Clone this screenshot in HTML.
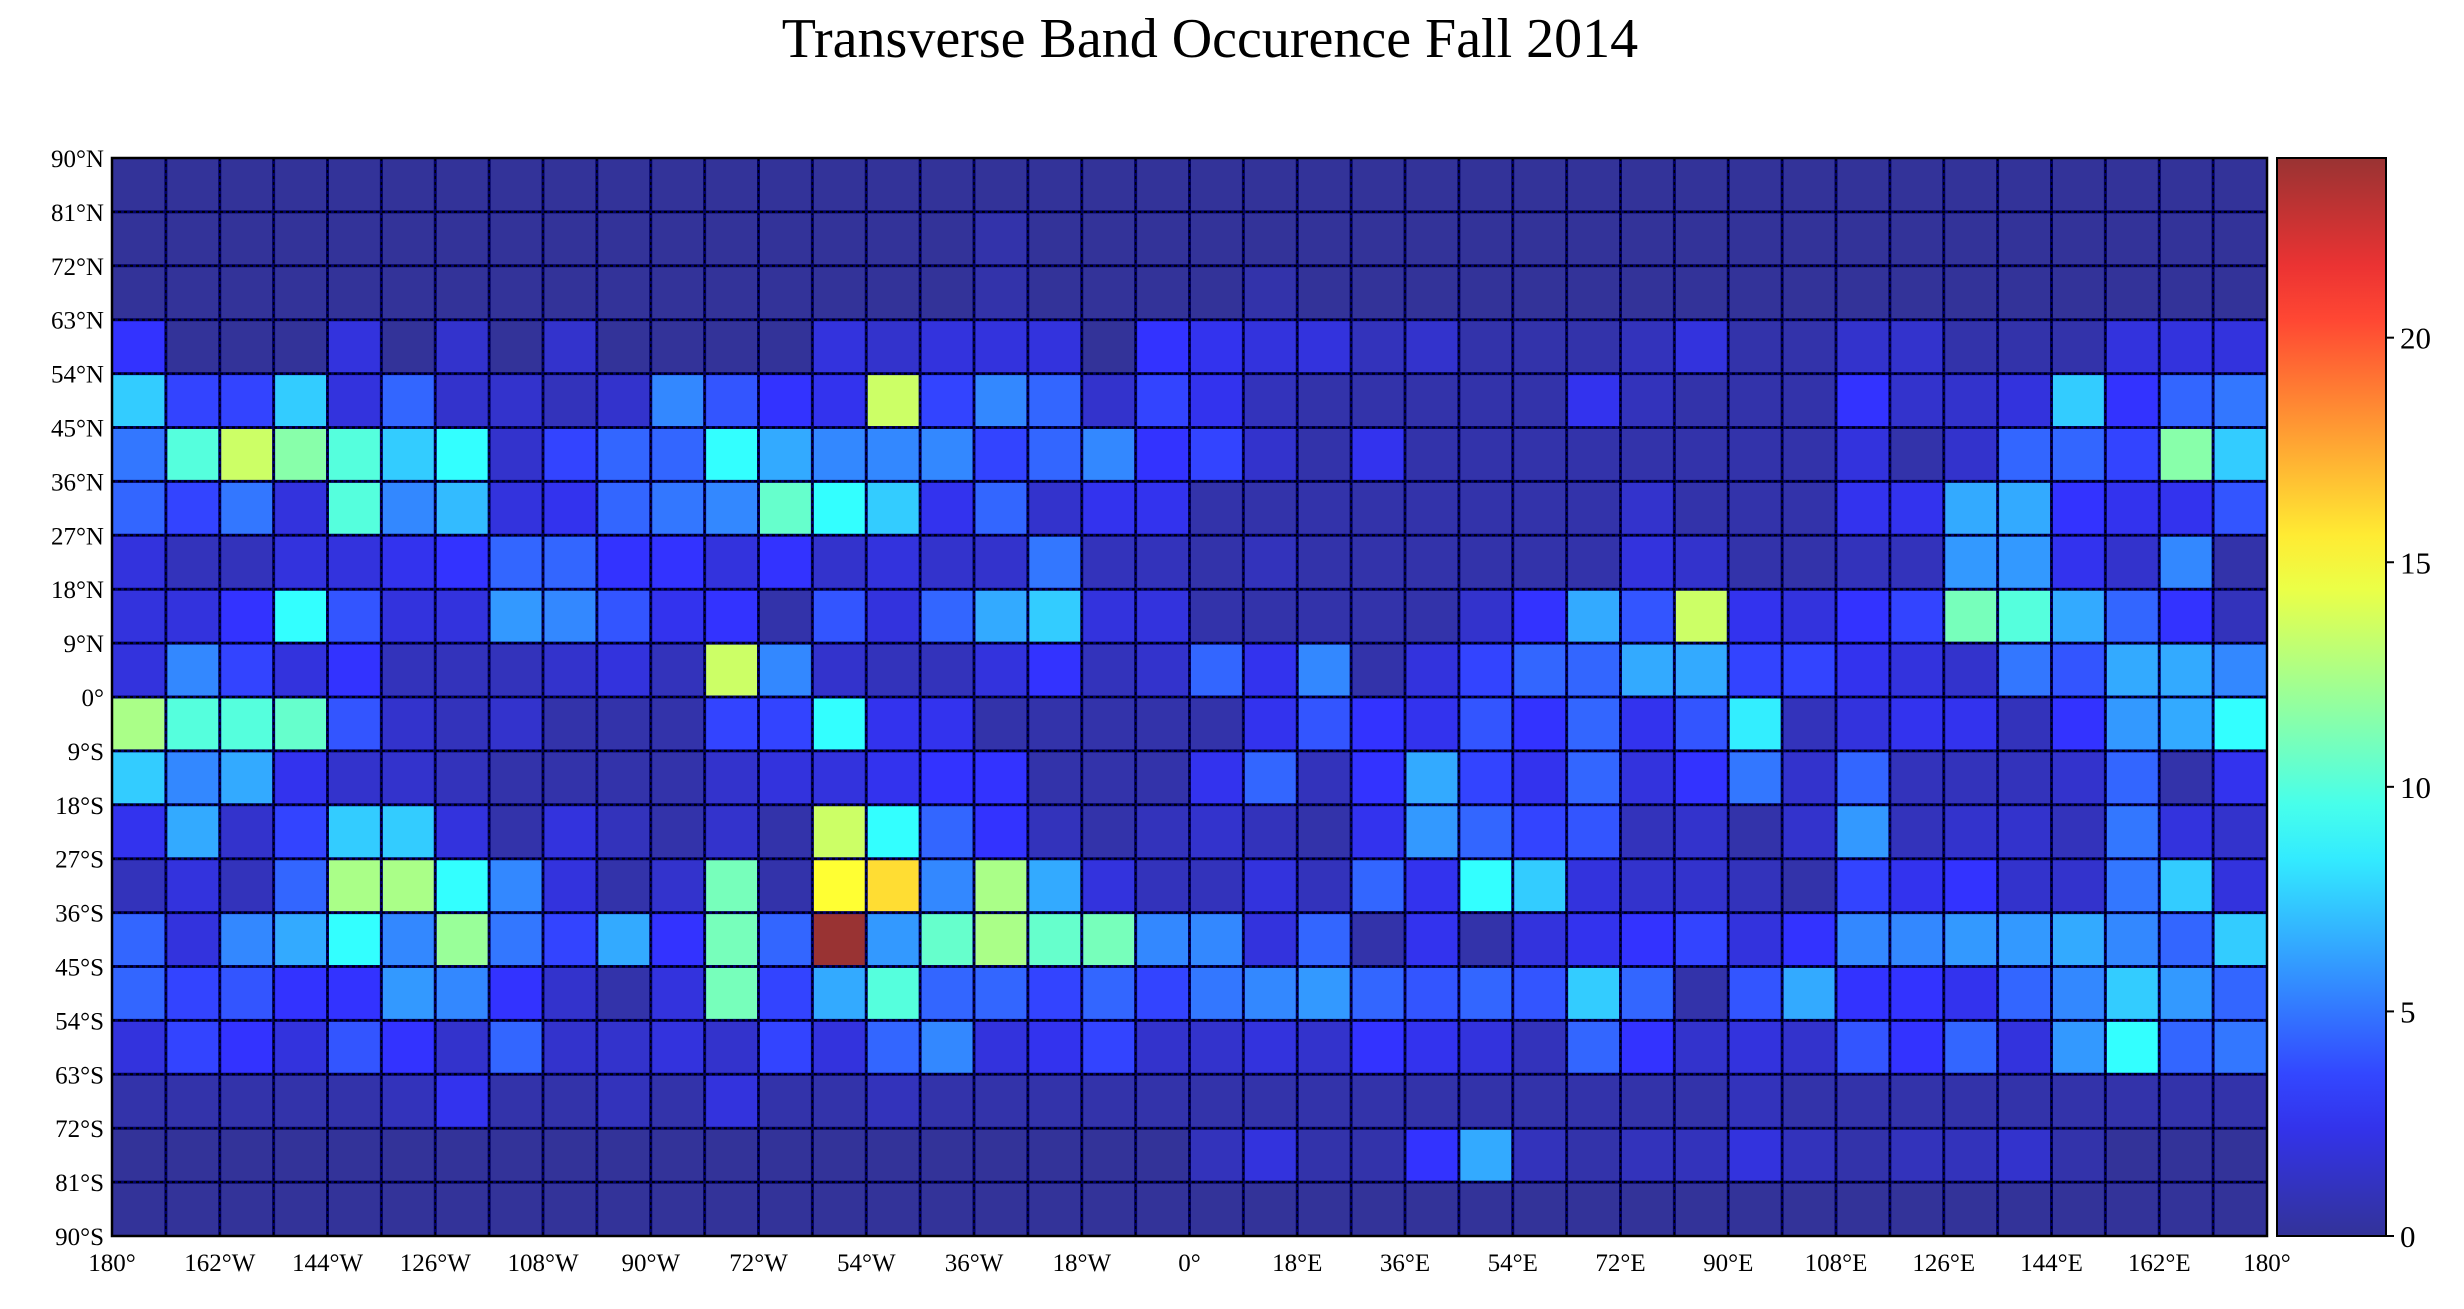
<!DOCTYPE html>
<html><head><meta charset="utf-8"><style>
html,body{margin:0;padding:0;background:#fff;}
svg{display:block;font-family:"Liberation Serif",serif;}
</style></head><body>
<svg id="chart" width="2464" height="1309" viewBox="0 0 2464 1309" xmlns="http://www.w3.org/2000/svg">
<text x="1210" y="57" font-size="56" text-anchor="middle">Transverse Band Occurence Fall 2014</text>
<g id="cells"></g>
<g id="grid"></g>
<g id="axes"></g>
<g id="cbar"></g>
</svg>
<script>
const lonTicks = ["180°","162°W","144°W","126°W","108°W","90°W","72°W","54°W","36°W","18°W","0°","18°E","36°E","54°E","72°E","90°E","108°E","126°E","144°E","162°E","180°"];
const latTicks = ["90°N","81°N","72°N","63°N","54°N","45°N","36°N","27°N","18°N","9°N","0°","9°S","18°S","27°S","36°S","45°S","54°S","63°S","72°S","81°S","90°S"];
const cbTicks = [0,5,10,15,20];
const cbMax = 24;
// rows from 90N southward, columns from 180W eastward (9 degree cells)
const r0 = [0,0,0,0,0,0,0,0,0,0,0,0,0,0,0,0,0,0,0,0,0,0,0,0,0,0,0,0,0,0,0,0,0,0,0,0,0,0,0,0];
const r1 = [0,0,0,0,0,0,0,0,0,0,0,0,0,0,0,0,0.5,0,0,0,0,0,0,0,0,0,0,0,0,0,0,0,0,0,0,0,0,0,0,0];
const r2 = [0,0,0,0,0,0,0,0,0,0,0,0,0,0,0,0,0.5,0,0,0,0,0.5,0,0,0,0,0,0,0,0,0,0,0,0,0,0,0,0,0,0];
const r3 = [3,0,0,0,2,0,1.5,0,1.5,0,0,0,0,2,1.5,2,2,2,0,3,2.5,2,2,1,1.5,0.5,0.5,0.5,1,2,0.5,0.5,1.5,1.5,0.5,0.5,0.5,2,2,2];
const r4 = [7.5,3.5,3.5,7.5,2,4.5,1.5,1.5,1,1.5,5.5,4,3,2.5,13.5,3.5,5.5,4.5,1.5,3.5,2.5,1,0.5,0.5,0.5,0.5,0.5,2.5,1,0.5,0.5,0.5,3,1.5,1.5,2,7.5,3,4.5,5];
const r5 = [5,10,13.5,11.5,10,7.5,9,1.5,3.5,4.5,4.5,9,6.5,5.5,5.5,5.5,3.5,4.5,5.5,3,3.5,1.5,0.5,2.5,0.5,0.5,0.5,0.5,0.5,0.5,0.5,0.5,2,0.5,1.5,4.5,4.5,3.5,11.5,7.5];
const r6 = [4.5,3.5,5,2,10,5.5,7,2,2.5,4.5,5,5.5,10.5,9,7.5,2.5,4.5,1.5,2.5,2.5,0.5,0.5,0.5,0.5,0.5,0.5,0.5,0.5,1.5,0.5,0.5,0.5,2.5,2.5,6.5,6.5,3,2.5,2.5,4];
const r7 = [2,1,1,2,2,2.5,3,4.5,4.5,3,3,2,3,1.5,2,1.5,1.5,5,1,1,0.5,1,0.5,0.5,0.5,0.5,0.5,0.5,2,1.5,0.5,0.5,1,1,6,6,2.5,1.5,5.5,0.5];
const r8 = [2,2,3,9,4,2,2,6,5.5,4,2.5,3,0.5,4,2,4.5,6.5,7.5,2,2,0.5,0.5,0.5,0.5,0.5,1.5,3,6.5,4,13.5,2.5,2,3,3.5,11,10,6.5,4.5,3,1];
const r9 = [2,5.5,3.5,2,3,1,1,1,1.5,2,1,13.5,5.5,1.5,1,1,2,3,1,1.5,4.5,2.5,5.5,0.5,2,3.5,4.5,4.5,6.5,6.5,3.5,3.5,2.5,2,1.5,5,4,6.5,6.5,5.5];
const r10 = [12.5,10,10,10.5,4,1.5,1,1.5,0.5,0.5,0.5,3.5,3.5,9,2.5,2.5,0.5,0.5,0.5,0.5,0.5,2.5,4,3,2.5,4,3,4.5,2.5,4,8.5,1,2,2.5,2.5,1,3,6,6.5,9];
const r11 = [7.5,5.5,6.5,2.5,1.5,1.5,1,0.5,0.5,0.5,0.5,1.5,2,2,2.5,3,3,0.5,0.5,0.5,2.5,4.5,1,3,6.5,3.5,2.5,4.5,2,3,5,1.5,4.5,1,1,1,1.5,4.5,0.5,2.5];
const r12 = [2.5,6.5,1.5,3.5,7.5,7.5,2,0.5,2,1,0.5,1.5,0.5,13.5,9,4.5,3,1,0.5,1,1.5,1,0.5,2.5,6,4.5,3.5,4,1,1.5,0.5,1.5,6,1,1.5,1.5,1,5,2,1.5];
const r13 = [1,2,1,4.5,12.5,12.5,9,5.5,2,0.5,1.5,11,0.5,15,16,5.5,12.5,6.5,2,1,1,2,1,4.5,2.5,9,7.5,2,1.5,1.5,1,0.5,3.5,2.5,3,1.5,1.5,5,7.5,2];
const r14 = [4.5,2,5.5,6.5,9,5.5,12,5,3.5,6.5,3,11,4.5,24,6,10.5,12.5,10.5,11,5.5,5.5,2,4.5,0.5,2.5,0.5,2,2.5,3,3.5,2,3,5.5,5.5,6,6,6.5,5.5,4.5,7.5];
const r15 = [4.5,3.5,4,3,3,6,5.5,3,1.5,0.5,2,11,3.5,6.5,10,4.5,4.5,3.5,4.5,3.5,5,5.5,6,4.5,4,4.5,4,7.5,4.5,0.5,4,6.5,3,3,2.5,4.5,5.5,7.5,6,4.5];
const r16 = [2,3.5,3,2,4,3,1.5,4.5,1.5,1.5,2,1.5,3.5,2,4.5,5.5,2,2.5,3.5,1.5,1.5,2,1.5,3,2.5,2,1,4.5,3,1.5,2,1.5,4,3,4.5,2,6,9,4.5,5];
const r17 = [0.5,0.5,0.5,0.5,0.5,1,2.5,0.5,0.5,1,0.5,2,0.5,0.5,1,0.5,0.5,0.5,0.5,0.5,0.5,0.5,0.5,0.5,0.5,0.5,0.5,0.5,0.5,0.5,1,0.5,0.5,0.5,0.5,0.5,0.5,0.5,0.5,0.5];
const r18 = [0,0,0,0,0,0,0,0,0,0,0,0,0,0,0,0,0,0,0,0,1,2,0.5,0.5,3,6.5,1,0.5,1,1,2,1,0.5,1,1,1.5,0.5,0,0,0];
const r19 = [0,0,0,0,0,0,0,0,0,0,0,0,0,0,0,0,0,0,0,0,0,0,0,0,0,0,0,0,0,0,0,0,0,0,0,0,0,0,0,0];
const rows = [r0,r1,r2,r3,r4,r5,r6,r7,r8,r9,r10,r11,r12,r13,r14,r15,r16,r17,r18,r19];

const NS="http://www.w3.org/2000/svg";
const X0=112, X1=2267, Y0=158, Y1=1236;
const nCols=40, nRows=20;
const xs = c => X0 + (X1-X0)*c/nCols;
const ys = r => Y0 + (Y1-Y0)*r/nRows;
function jet(t){
  t=Math.max(0,Math.min(1,t));
  const cl=v=>Math.max(0,Math.min(1,v));
  const r=cl(1.5-Math.abs(4*t-3)), g=cl(1.5-Math.abs(4*t-2)), b=cl(1.5-Math.abs(4*t-1));
  const a=0.8;
  return `rgb(${Math.round(255*(r*a+1-a))},${Math.round(255*(g*a+1-a))},${Math.round(255*(b*a+1-a))})`;
}
function el(tag,attrs,parent){const e=document.createElementNS(NS,tag);for(const k in attrs)e.setAttribute(k,attrs[k]);parent.appendChild(e);return e;}
const cells=document.getElementById('cells');
rows.forEach((row,r)=>row.forEach((v,c)=>{
  const e=el('rect',{x:xs(c),y:ys(r),width:xs(c+1)-xs(c)+0.5,height:ys(r+1)-ys(r)+0.5,fill:jet(v/cbMax)},cells);
  
  
}));
const grid=document.getElementById('grid');
for(let c=1;c<nCols;c++){
  el('line',{x1:xs(c),x2:xs(c),y1:Y0,y2:Y1,stroke:'#000066','stroke-width':3},grid);
  el('line',{x1:xs(c),x2:xs(c),y1:Y0,y2:Y1,stroke:'#000','stroke-width':1.5,'stroke-dasharray':'3,3'},grid);
}
for(let r=1;r<nRows;r++){
  el('line',{x1:X0,x2:X1,y1:ys(r),y2:ys(r),stroke:'#000066','stroke-width':3},grid);
  el('line',{x1:X0,x2:X1,y1:ys(r),y2:ys(r),stroke:'#000','stroke-width':2,'stroke-dasharray':'3,3'},grid);
}
const axes=document.getElementById('axes');
el('rect',{x:X0,y:Y0,width:X1-X0,height:Y1-Y0,fill:'none',stroke:'#000','stroke-width':2.5},axes);
lonTicks.forEach((t,i)=>{
  const e=el('text',{x:xs(i*2),y:1271,'font-size':25,'text-anchor':'middle'},axes);
  e.textContent=t;
  
  
});
latTicks.forEach((t,i)=>{
  const e=el('text',{x:104,y:ys(i)+9,'font-size':25,'text-anchor':'end'},axes);
  e.textContent=t;
  
  
});
const cb=document.getElementById('cbar');
const CX0=2277, CX1=2386;
const defs=el('defs',{},cb);
const grad=el('linearGradient',{id:'jetg',x1:0,y1:1,x2:0,y2:0},defs);
for(let i=0;i<=20;i++) el('stop',{offset:i/20,'stop-color':jet(i/20)},grad);
el('rect',{x:CX0,y:Y0,width:CX1-CX0,height:Y1-Y0,fill:'url(#jetg)',stroke:'#000','stroke-width':2},cb);
const cy=v=>Y1-(Y1-Y0)*v/cbMax;
cbTicks.forEach(v=>{
  el('line',{x1:CX1,x2:CX1+8,y1:cy(v),y2:cy(v),stroke:'#000','stroke-width':2},cb);
  const e=el('text',{x:CX1+14,y:cy(v)+11,'font-size':31},cb);
  e.textContent=String(v);
  
  
});
</script>
</body></html>
